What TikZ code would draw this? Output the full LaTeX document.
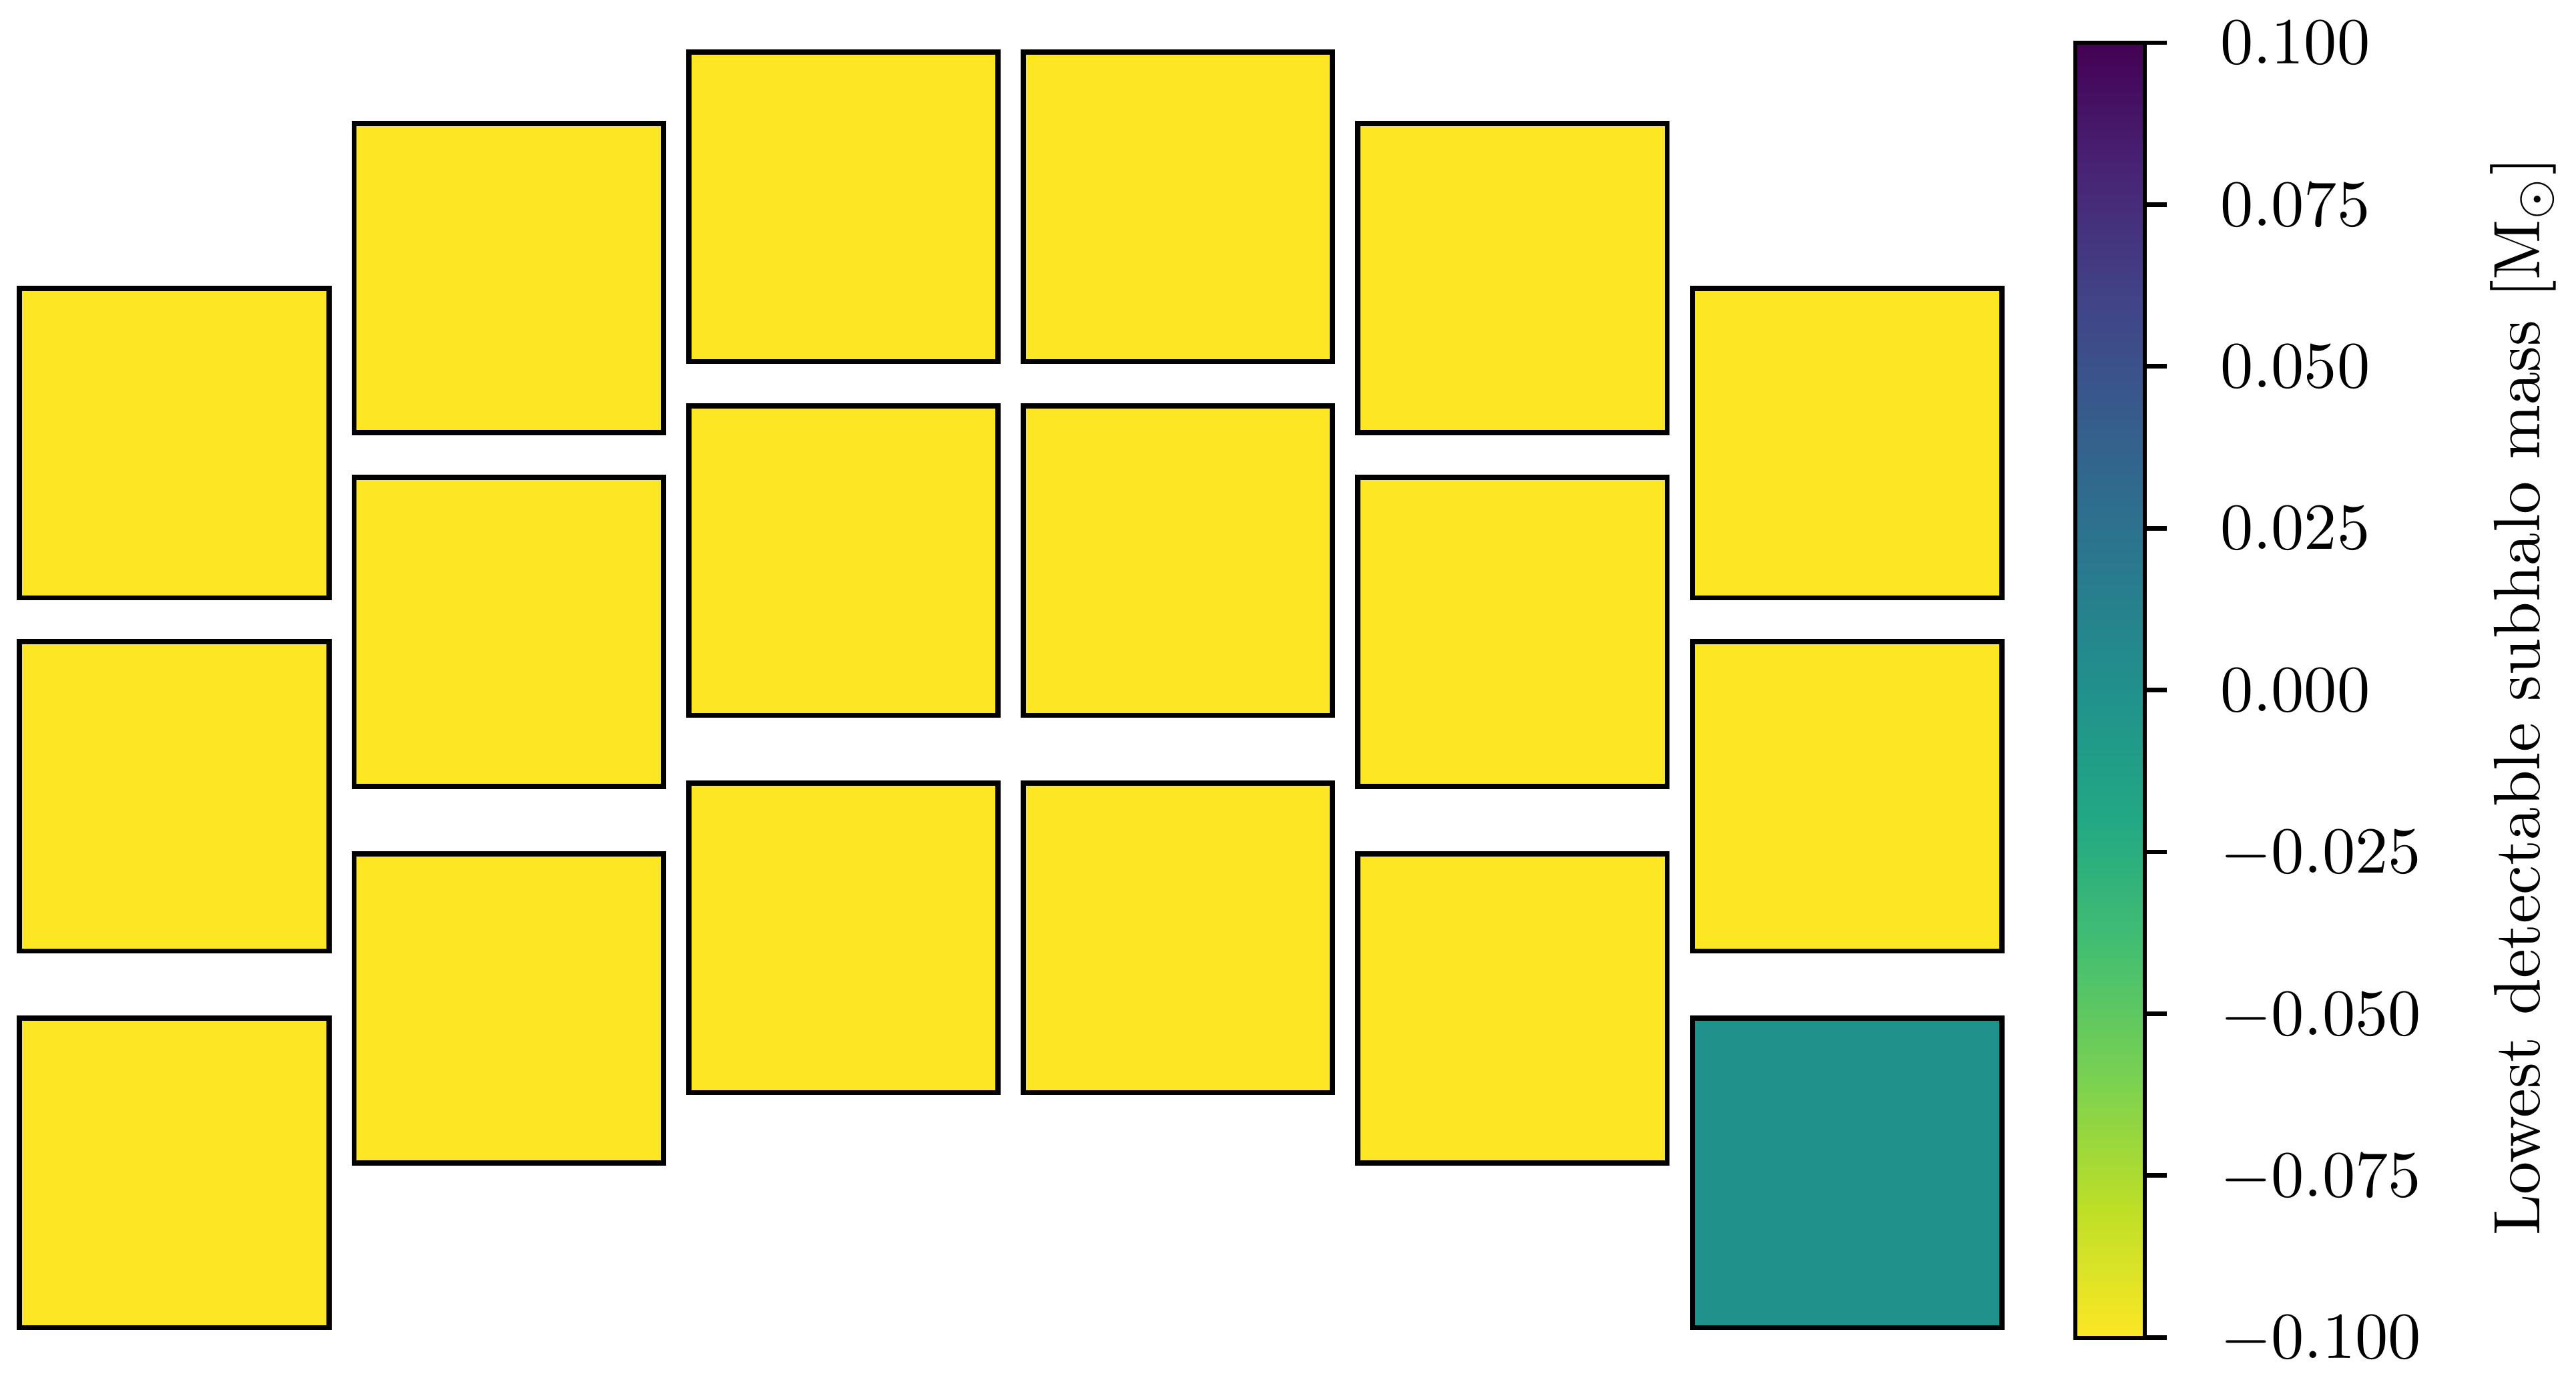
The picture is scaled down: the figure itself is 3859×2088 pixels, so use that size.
\documentclass[tikz,border=0pt]{standalone}
\usepackage{fix-cm}

\definecolor{vir0}{HTML}{440154}
\definecolor{vir1}{HTML}{482475}
\definecolor{vir2}{HTML}{414487}
\definecolor{vir3}{HTML}{355F8D}
\definecolor{vir4}{HTML}{2A788E}
\definecolor{vir5}{HTML}{21918C}
\definecolor{vir6}{HTML}{22A884}
\definecolor{vir7}{HTML}{44BF70}
\definecolor{vir8}{HTML}{7AD151}
\definecolor{vir9}{HTML}{BDDF26}
\definecolor{vir10}{HTML}{FDE725}
\pgfdeclareverticalshading{viridisr}{100bp}{color(0bp)=(vir10); color(25bp)=(vir10);
  color(30bp)=(vir9); color(35bp)=(vir8); color(40bp)=(vir7); color(45bp)=(vir6);
  color(50bp)=(vir5); color(55bp)=(vir4); color(60bp)=(vir3); color(65bp)=(vir2);
  color(70bp)=(vir1); color(75bp)=(vir0); color(100bp)=(vir0)}

\begin{document}
\begin{tikzpicture}[x=0.01cm,y=0.01cm,
   sca/.style={draw,line width=2.2pt,minimum size=4.63cm,inner sep=0pt,outer sep=0pt,fill=vir10},
   cbar/.style={draw,line width=1.9pt,minimum width=1.04cm,minimum height=19.39cm,
     inner sep=0pt,outer sep=0pt,shade,shading=viridisr},
   cbtick/.style={line width=1.9pt},
   ticklab/.style={anchor=west,inner sep=0pt,text depth=0pt,font=\fontsize{10}{12}\selectfont,scale=2.8}]
   \path[use as bounding box,fill=white] (0,0) rectangle (3859,2088);

   \node[sca] (d1) at (261,1424) {};
   \node[sca] (d2) at (261,895) {};
   \node[sca] (d3) at (261,331) {};

   \node[sca] (d4) at (762.2,1671.5) {};
   \node[sca] (d5) at (762.2,1141.5) {};
   \node[sca] (d6) at (762.2,577.5) {};

   \node[sca] (d7) at (1263.4,1778) {};
   \node[sca] (d8) at (1263.4,1248) {};
   \node[sca] (d9) at (1263.4,683) {};

   \node[sca] (d10) at (1764.6,1778) {};
   \node[sca] (d11) at (1764.6,1248) {};
   \node[sca] (d12) at (1764.6,683) {};

   \node[sca] (d13) at (2265.8,1671.5) {};
   \node[sca] (d14) at (2265.8,1141.5) {};
   \node[sca] (d15) at (2265.8,577.5) {};

   \node[sca] (d16) at (2767,1424) {};
   \node[sca] (d17) at (2767,895) {};
   \node[sca,fill=vir5] (d18) at (2767,331) {};


   \node[cbar] (cb) at (3161,1053.9) {};
   \foreach \k/\lab in {0/0.100,1/0.075,2/0.050,3/0.025,4/0.000,5/-0.025,6/-0.050,7/-0.075,8/-0.100}{
     \path (cb.north east) ++(0,-242.4*\k) coordinate (k\k);
     \draw[cbtick] (k\k) -- ++(33,0);
     \path (k\k) ++(111,0) node[ticklab] (t\k) {$\lab$};
   }
   \node[ticklab,anchor=base,rotate=90] (cblab) at (3804,1045) {Lowest detectable subhalo mass [M$_\odot$]};

\end{tikzpicture}
\end{document}
